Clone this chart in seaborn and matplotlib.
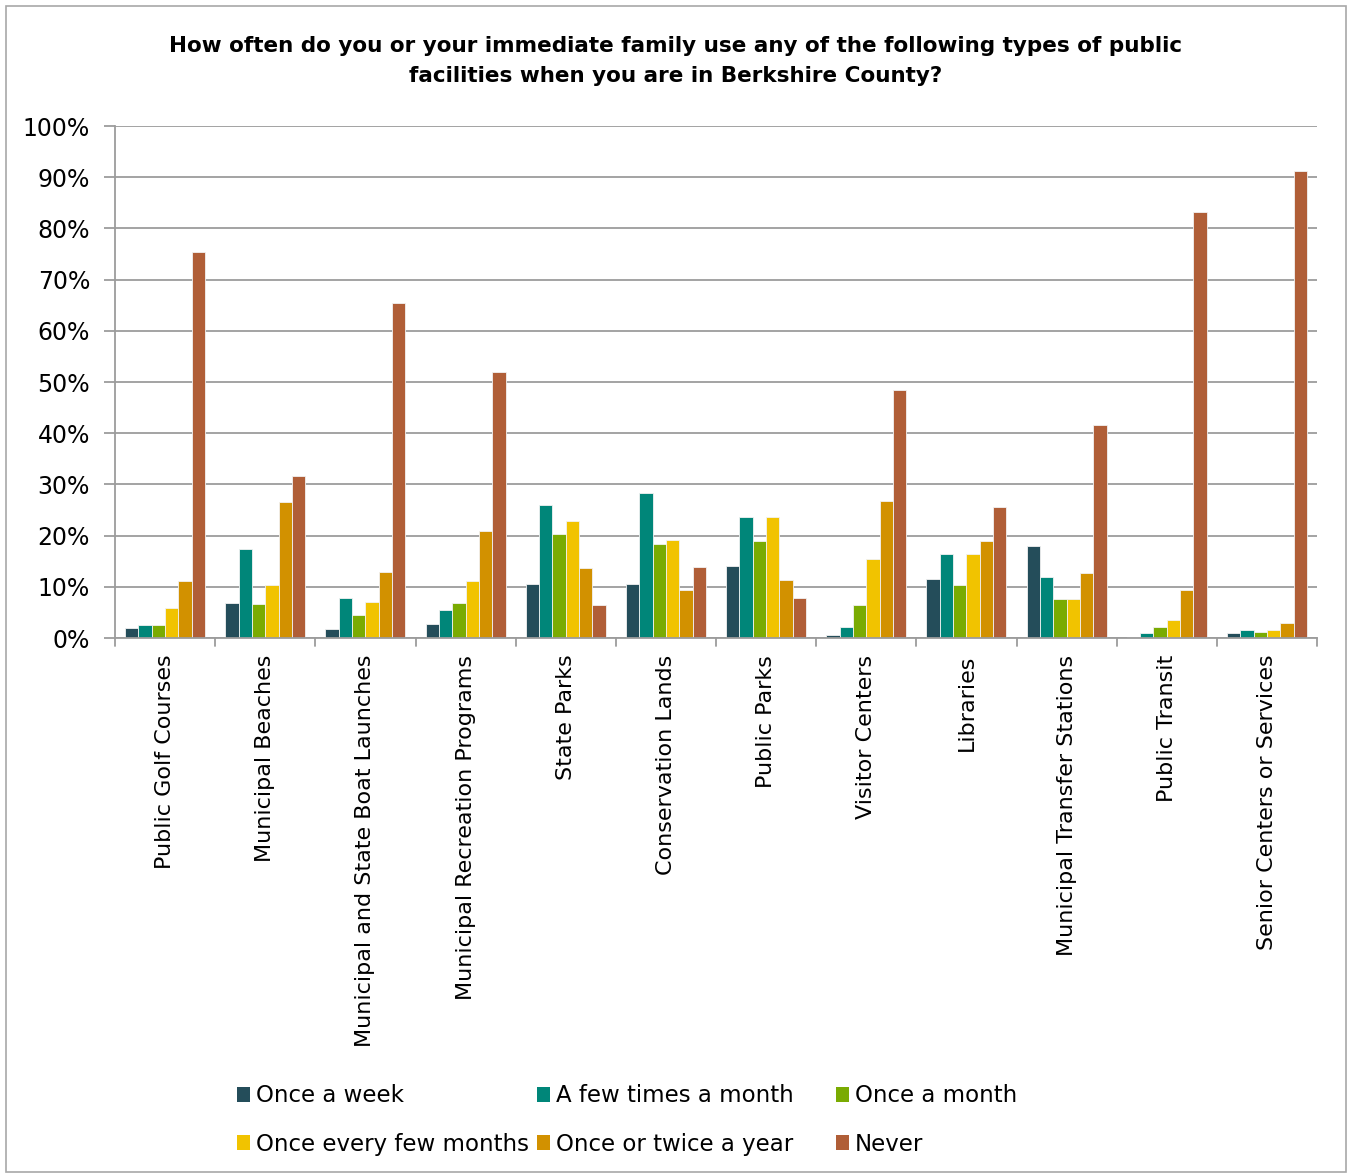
import matplotlib
matplotlib.use("Agg")
import matplotlib.pyplot as plt
from matplotlib.patches import Rectangle, Patch
import seaborn as sns
import pandas as pd

facilities = [
    "Public Golf Courses", "Municipal Beaches", "Municipal and State Boat Launches",
    "Municipal Recreation Programs", "State Parks", "Conservation Lands",
    "Public Parks", "Visitor Centers", "Libraries",
    "Municipal Transfer Stations", "Public Transit", "Senior Centers or Services",
]
frequencies = [
    "Once a week", "A few times a month", "Once a month",
    "Once every few months", "Once or twice a year", "Never",
]
once_a_week = [2.0, 6.9, 1.8, 2.8, 10.6, 10.6, 14.1, 0.5, 11.5, 17.9, 0.2, 1.0]
few_times_month = [2.6, 17.4, 7.9, 5.5, 25.9, 28.3, 23.7, 2.1, 16.5, 12.0, 1.0, 1.6]
once_a_month = [2.6, 6.6, 4.4, 6.9, 20.3, 18.4, 18.9, 6.4, 10.4, 7.7, 2.1, 1.2]
few_months = [5.8, 10.4, 7.1, 11.2, 22.9, 19.2, 23.7, 15.5, 16.5, 7.7, 3.6, 1.6]
once_twice_year = [11.1, 26.5, 12.9, 20.9, 13.6, 9.3, 11.4, 26.7, 19.0, 12.6, 9.3, 2.9]
never = [75.3, 31.6, 65.4, 52.0, 6.4, 13.9, 7.9, 48.5, 25.6, 41.6, 83.3, 91.3]
palette = ["#244D5A", "#008679", "#7AAB02", "#F1C300", "#D29100", "#B05E37"]

series = [once_a_week, few_times_month, once_a_month, few_months, once_twice_year, never]
rows = []
for freq, vals in zip(frequencies, series):
    for fac, v in zip(facilities, vals):
        rows.append({"Facility": fac, "Frequency": freq, "Percent": v})
df = pd.DataFrame(rows)

sns.set_theme(style="white")
plt.rcParams["font.family"] = ["DejaVu Sans"]
plt.rcParams["text.color"] = "black"

grid_color = "#9c9c9c"

fig = plt.figure(figsize=(13.49, 11.73), dpi=100)
ax = fig.add_axes([115 / 1349, 1 - 638 / 1173, (1317 - 115) / 1349, (638 - 126) / 1173])

sns.barplot(data=df, x="Facility", y="Percent", hue="Frequency",
            order=facilities, hue_order=frequencies, palette=palette,
            saturation=1, width=0.8, edgecolor="#f2f2f2", linewidth=0.6,
            ax=ax, legend=False)

ax.set_ylim(0, 100)
ax.set_xlim(-0.5, len(facilities) - 0.5)
ax.set_yticks(range(0, 101, 10))
ax.set_yticklabels([f"{v}%" for v in range(0, 101, 10)], fontsize=17, color="black")
ax.yaxis.grid(True, color=grid_color, linewidth=1.3)
ax.set_axisbelow(True)
ax.set_xlabel("")
ax.set_ylabel("")

ax.set_xticks(range(len(facilities)))
ax.set_xticklabels(facilities, rotation=90, fontsize=16, color="black", va="top", ha="center")
ax.tick_params(axis="x", length=0, pad=12)
# tick marks at the category boundaries
for b in [i - 0.5 for i in range(len(facilities) + 1)]:
    ax.plot([b, b], [0, -1.6], color=grid_color, linewidth=1.3, clip_on=False)
ax.tick_params(axis="y", length=8, color=grid_color, width=1.3, left=True, pad=10)

for side in ["top", "right"]:
    ax.spines[side].set_visible(False)
for side in ["left", "bottom"]:
    ax.spines[side].set_color(grid_color)
    ax.spines[side].set_linewidth(1.3)

fig.text(676 / 1349, 1 - 61 / 1173,
         "How often do you or your immediate family use any of the following types of public\n"
         "facilities when you are in Berkshire County?",
         ha="center", va="center", fontsize=15.5, fontweight="heavy",
         color="black", linespacing=1.65)

# legend: three columns at fixed positions, two rows each
col_x = [232, 532, 831]
for c in range(3):
    idx = [c, c + 3]
    handles = [Patch(facecolor=palette[i], edgecolor="none") for i in idx]
    labels = [frequencies[i] for i in idx]
    leg = fig.legend(handles, labels, ncol=1, loc="center left",
                     bbox_to_anchor=(col_x[c] / 1349, 1 - 1120 / 1173), frameon=False,
                     fontsize=16.5, handlelength=0.6, handleheight=0.6,
                     handletextpad=0.25, labelspacing=1.1, borderpad=0.2,
                     borderaxespad=0)
    for t in leg.get_texts():
        t.set_color("black")

fig.patches.append(Rectangle((6 / 1349, 1 / 1173), 1340 / 1349, 1166 / 1173,
                             transform=fig.transFigure, fill=False,
                             edgecolor="#a8a8a8", linewidth=1.2))

fig.savefig("out.png", dpi=100, facecolor="white")
